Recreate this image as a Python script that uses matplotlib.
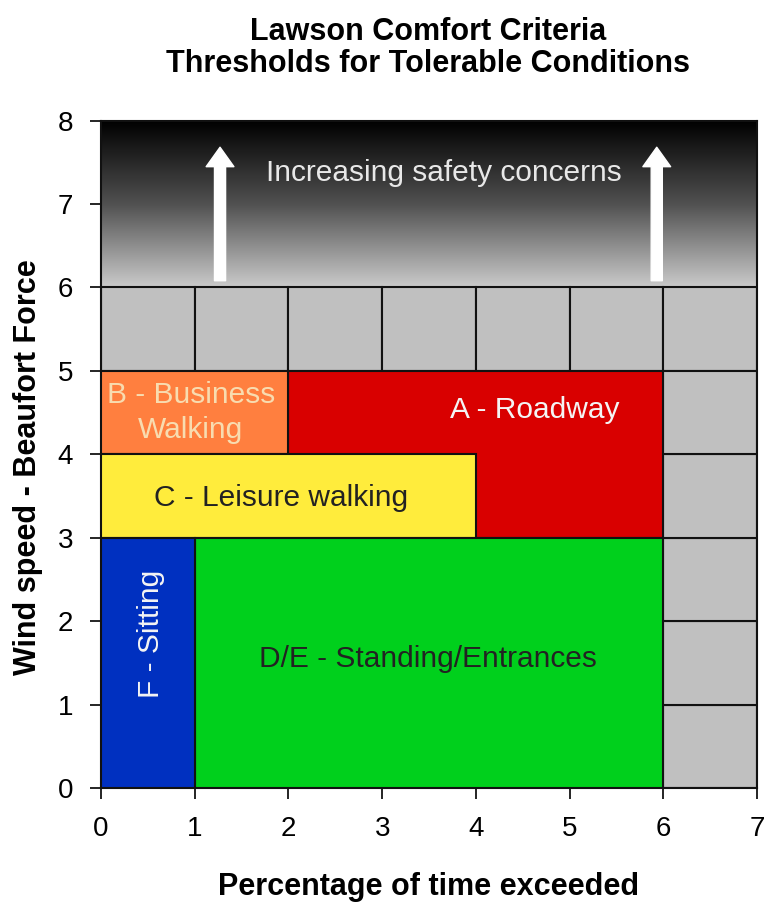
import numpy as np
import matplotlib.pyplot as plt
from matplotlib.colors import LinearSegmentedColormap

plt.rcParams['font.family'] = ['Liberation Sans', 'DejaVu Sans']

# comfort zones: (label, x0, x1, y0, y1, fill colour, text colour)
zone_names = ['A - Roadway', 'B - Business\nWalking', 'C - Leisure walking',
              'D/E - Standing/Entrances', 'F - Sitting']
zone_x0 = [2, 0, 0, 1, 0]
zone_x1 = [6, 2, 4, 6, 1]
zone_y0 = [3, 4, 3, 0, 0]
zone_y1 = [5, 5, 4, 3, 3]
zone_colors = ['#d90000', '#ff7f3f', '#ffec3c', '#00d01c', '#0030c0']
label_colors = ['#f4f4f4', '#f8dcb0', '#222222', '#222222', '#f4f4f4']
label_pos = [(4.63, 4.53), (0.96, 4.5), (1.92, 3.48), (3.49, 1.55), (0.53, 1.85)]
label_rot = [0, 0, 0, 0, 90]

x_ticks = list(range(0, 8))
y_ticks = list(range(0, 9))
arrow_x = [1.27, 5.93]

fig = plt.figure(figsize=(7.67, 9.07), dpi=100)
ax = fig.add_axes([0.1317, 0.1312, 0.8553, 0.7359])

# dark gradient band above force 6 (black at the top)
cmap = LinearSegmentedColormap.from_list(
    'danger', [(0, '#000000'), (0.5, '#505050'), (1, '#cacaca')])
grad = np.linspace(0, 1, 256).reshape(-1, 1)
ax.imshow(grad, extent=[0, 7, 6, 8], origin='upper', cmap=cmap,
          aspect='auto', zorder=0)

# grey cells outside the comfort zones
for x in range(0, 7):
    ax.add_patch(plt.Rectangle((x, 5), 1, 1, facecolor='#c0c0c0',
                               edgecolor='#111111', lw=1.5, zorder=1))
for y in range(0, 5):
    ax.add_patch(plt.Rectangle((6, y), 1, 1, facecolor='#c0c0c0',
                               edgecolor='#111111', lw=1.5, zorder=1))

for i, name in enumerate(zone_names):
    ax.add_patch(plt.Rectangle((zone_x0[i], zone_y0[i]),
                               zone_x1[i] - zone_x0[i], zone_y1[i] - zone_y0[i],
                               facecolor=zone_colors[i], edgecolor='#111111',
                               lw=1.5, zorder=2 + i))
    ax.text(label_pos[i][0], label_pos[i][1], name, color=label_colors[i],
            fontsize=21.5, ha='center', va='center', rotation=label_rot[i],
            linespacing=1.3, zorder=10)

for ax_x in arrow_x:
    ax.annotate('', xy=(ax_x, 7.68), xytext=(ax_x, 6.08),
                arrowprops=dict(facecolor='white', edgecolor='white',
                                width=8, headwidth=20, headlength=14),
                zorder=10)
ax.text(3.66, 7.37, 'Increasing safety concerns', color='#e8e8e8',
        fontsize=21.5, ha='center', va='center', zorder=10)

ax.set_xlim(0, 7)
ax.set_ylim(0, 8)
ax.set_xticks(x_ticks)
ax.set_yticks(y_ticks)
ax.tick_params(labelsize=20, length=8, width=1.2, pad=12)
for s in ax.spines.values():
    s.set_linewidth(1.5)
    s.set_color('#111111')

ax.set_xlabel('Percentage of time exceeded', fontsize=22, fontweight='bold', labelpad=22)
ax.set_ylabel('Wind speed - Beaufort Force', fontsize=22, fontweight='bold')
ax.yaxis.set_label_coords(-0.088, 0.48)
fig.text(0.558, 0.947, 'Lawson Comfort Criteria\nThresholds for Tolerable Conditions',
         ha='center', va='center', fontsize=22, fontweight='bold', linespacing=1.05)

fig.savefig('out.png', dpi=100)
